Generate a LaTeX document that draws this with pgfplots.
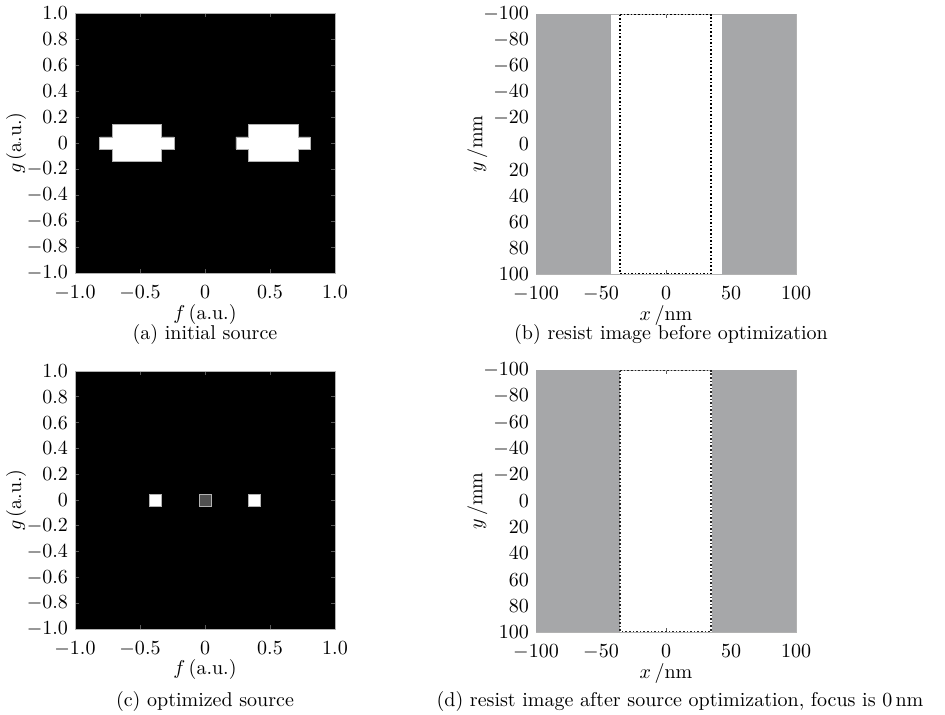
\documentclass[border=0pt]{standalone}
\usepackage{pgfplots}
\pgfplotsset{compat=1.18}
\definecolor{resistgray}{RGB}{166,167,169}
\definecolor{midsrc}{RGB}{80,80,80}

\pgfplotsset{
  panel/.style={
    scale only axis, width=130pt, anchor=south west,
    enlargelimits=false,
    axis line style={gray!60, line width=0.4pt},
    tick style={gray!70!black, line width=0.4pt},
    major tick length=2pt,
    tick align=inside,
    xticklabel style={yshift=-3pt},
    xlabel style={at={(axis description cs:0.5,-0.158)}, anchor=center},
    ylabel style={at={(axis description cs:-0.226,0.5)}, anchor=center},
  },
  source/.style={
    panel,
    xmin=-1, xmax=1, ymin=-1, ymax=1,
    axis background/.style={fill=black},
    xtick={-1,-0.5,0,0.5,1},
    xticklabels={$-1.0$,$-0.5$,$0$,$0.5$,$1.0$},
    ytick={-1,-0.8,-0.6,-0.4,-0.2,0,0.2,0.4,0.6,0.8,1},
    yticklabels={$-1.0$,$-0.8$,$-0.6$,$-0.4$,$-0.2$,$0$,$0.2$,$0.4$,$0.6$,$0.8$,$1.0$},
    xlabel={$f\,$(a.u.)}, ylabel={$g\,$(a.u.)},
  },
  resist/.style={
    panel,
    xmin=-100, xmax=100, ymin=-100, ymax=100, y dir=reverse,
    xtick={-100,-50,0,50,100},
    ytick={-100,-80,...,100},
    xlabel={$x\,$/nm}, ylabel={$y\,$/mm},
  },
}

\begin{document}
\begin{tikzpicture}
\useasboundingbox (0,0) rectangle (472.5pt,357pt);

% (a) initial source
\begin{axis}[source, at={(37.5pt,220.5pt)}, height=130pt]
\addplot[fill=white, draw=gray!60, line width=0.3pt] coordinates {
  (-0.8095,-0.0476) (-0.7143,-0.0476) (-0.7143,-0.1429) (-0.3333,-0.1429)
  (-0.3333,-0.0476) (-0.2381,-0.0476) (-0.2381,0.0476) (-0.3333,0.0476)
  (-0.3333,0.1429) (-0.7143,0.1429) (-0.7143,0.0476) (-0.8095,0.0476)
} -- cycle;
\addplot[fill=white, draw=gray!60, line width=0.3pt] coordinates {
  (0.2381,-0.0476) (0.3333,-0.0476) (0.3333,-0.1429) (0.7143,-0.1429)
  (0.7143,-0.0476) (0.8095,-0.0476) (0.8095,0.0476) (0.7143,0.0476)
  (0.7143,0.1429) (0.3333,0.1429) (0.3333,0.0476) (0.2381,0.0476)
} -- cycle;
\end{axis}

% (b) resist image before optimization
\begin{axis}[resist, at={(268pt,220pt)}, height=130pt]
\addplot[fill=resistgray, draw=none] coordinates {
  (-100,-100) (-42.3,-100) (-42.3,100) (-100,100)} -- cycle;
\addplot[fill=resistgray, draw=none] coordinates {
  (42.8,-100) (100,-100) (100,100) (42.8,100)} -- cycle;
\addplot[black, densely dotted, line width=0.8pt] coordinates {
  (-35.4,-99.5) (34.8,-99.5) (34.8,99.5) (-35.4,99.5)} -- cycle;
\end{axis}

% (c) optimized source
\begin{axis}[source, at={(37.5pt,42.5pt)}, height=129pt]
\addplot[fill=white, draw=gray!60, line width=0.3pt] coordinates {
  (-0.4286,-0.0476) (-0.3333,-0.0476) (-0.3333,0.0476) (-0.4286,0.0476)} -- cycle;
\addplot[fill=midsrc, draw=gray!60, line width=0.3pt] coordinates {
  (-0.0476,-0.0476) (0.0476,-0.0476) (0.0476,0.0476) (-0.0476,0.0476)} -- cycle;
\addplot[fill=white, draw=gray!60, line width=0.3pt] coordinates {
  (0.3333,-0.0476) (0.4286,-0.0476) (0.4286,0.0476) (0.3333,0.0476)} -- cycle;
\end{axis}

% (d) resist image after source optimization
\begin{axis}[resist, at={(268pt,41pt)}, height=131pt]
\addplot[fill=resistgray, draw=none] coordinates {
  (-100,-100) (-35.6,-100) (-35.6,100) (-100,100)} -- cycle;
\addplot[fill=resistgray, draw=none] coordinates {
  (35.2,-100) (100,-100) (100,100) (35.2,100)} -- cycle;
\addplot[black!85, densely dotted, line width=0.8pt] coordinates {
  (-35.2,-99.5) (34.7,-99.5) (34.7,99.5) (-35.2,99.5)} -- cycle;
\end{axis}

\node at (102.5pt,190pt) {(a) initial source};
\node at (335.5pt,190pt) {(b) resist image before optimization};
\node at (102.5pt,6.5pt) {(c) optimized source};
\node at (340pt,6.5pt) {(d) resist image after source optimization, focus is 0\,nm};
\end{tikzpicture}
\end{document}
